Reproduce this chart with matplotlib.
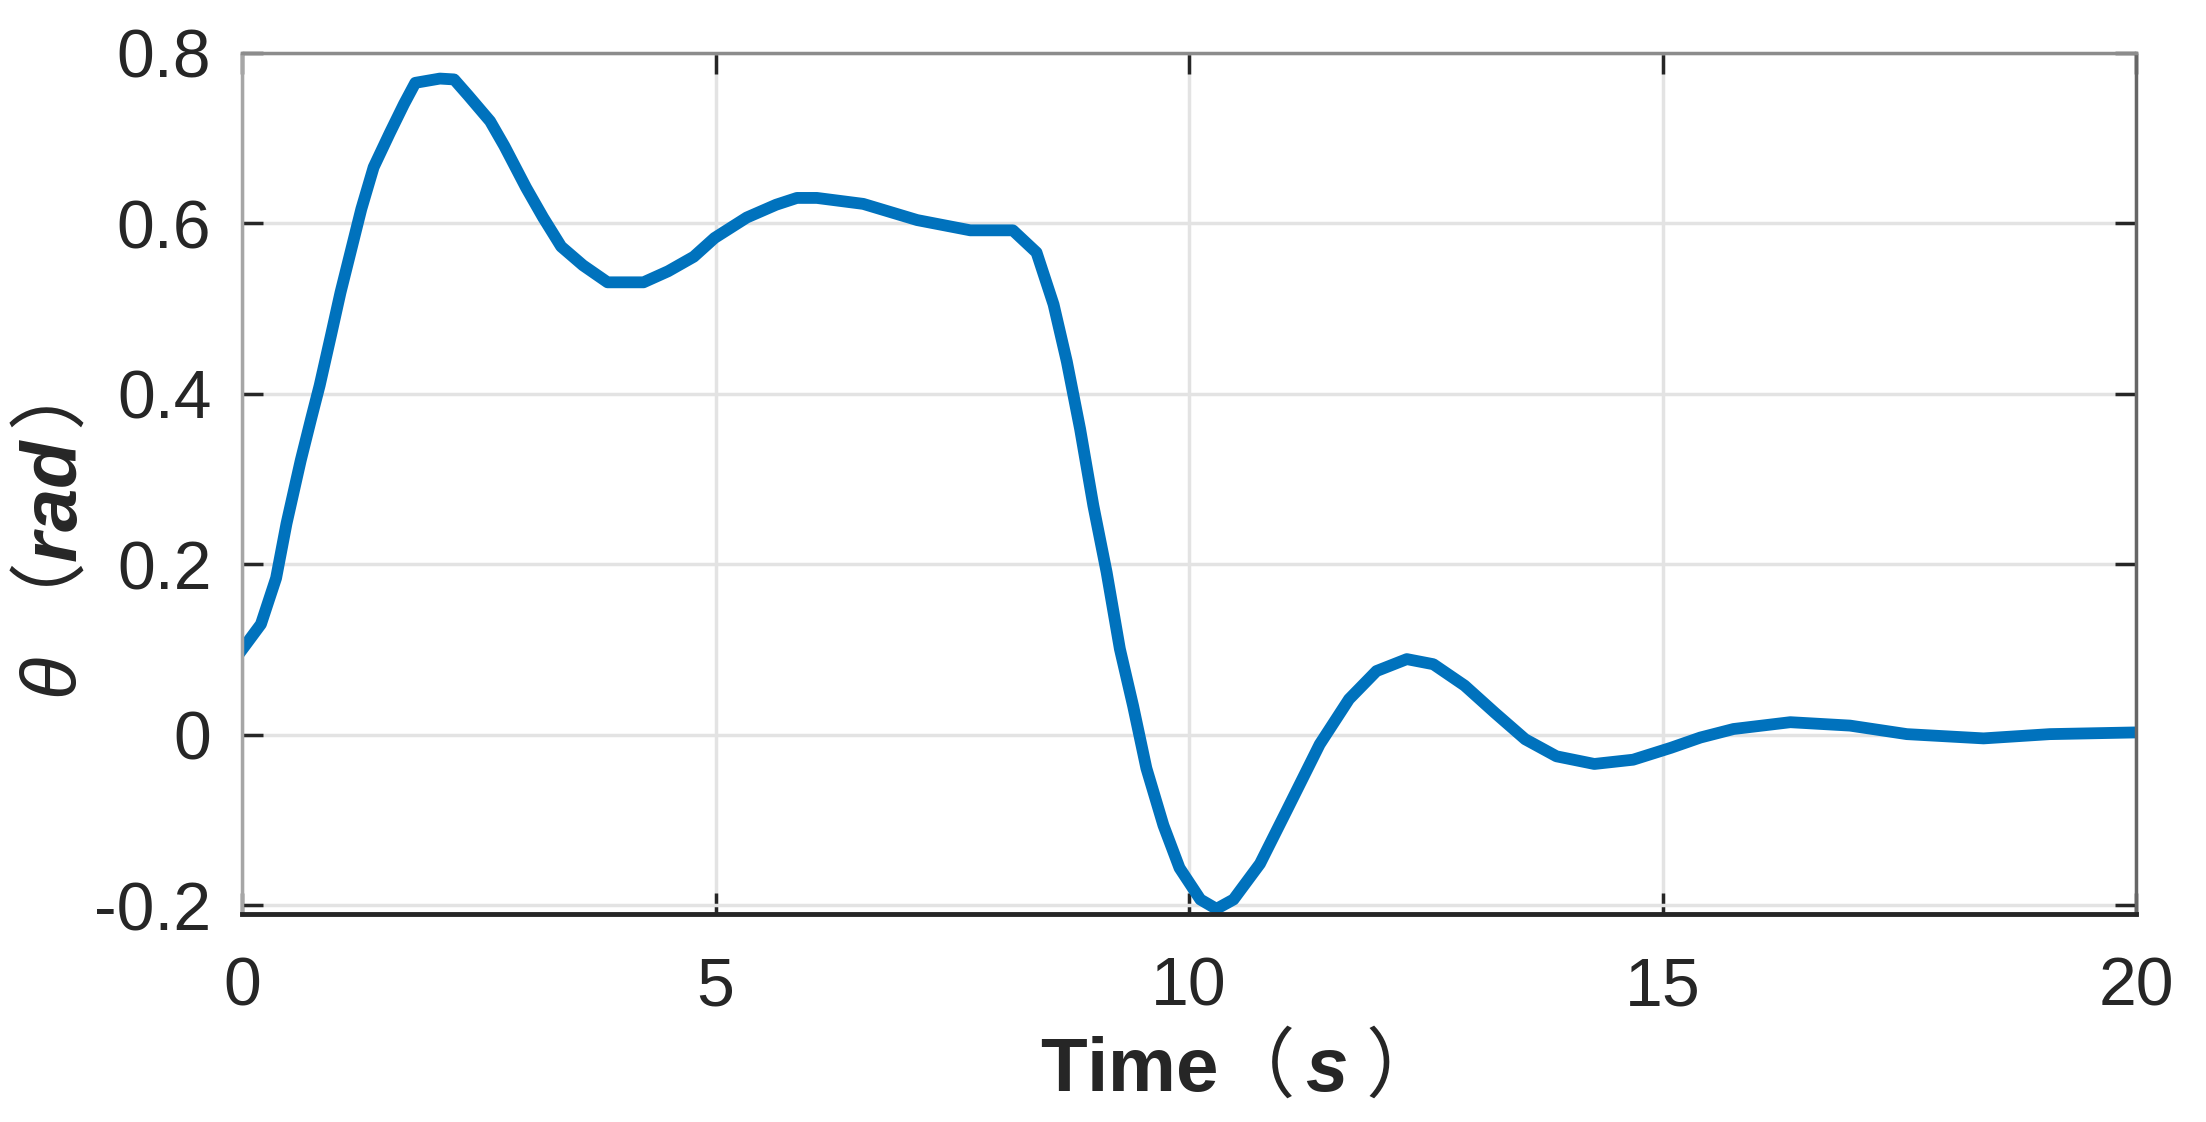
import matplotlib
matplotlib.use("Agg")
import matplotlib.pyplot as plt

plt.rcParams['font.family'] = ['Liberation Sans', 'Noto Sans CJK SC']
plt.rcParams['mathtext.fontset'] = 'custom'
plt.rcParams['mathtext.rm'] = 'Noto Sans CJK SC'
plt.rcParams['mathtext.it'] = 'Liberation Sans:italic'
plt.rcParams['mathtext.bf'] = 'Liberation Sans:bold'
plt.rcParams['mathtext.bfit'] = 'Liberation Sans:italic:bold'

# response
time_s = [0, 0.2, 0.36, 0.47, 0.62, 0.73, 0.82, 0.94, 1.04, 1.15, 1.26, 1.39,
          1.56, 1.71, 1.83, 2.09, 2.24, 2.39, 2.62, 2.77, 3.0, 3.18, 3.37, 3.6,
          3.86, 4.04, 4.24, 4.5, 4.77, 4.99, 5.33, 5.64, 5.86, 6.07, 6.56, 7.13,
          7.69, 8.14, 8.39, 8.57, 8.71, 8.85, 8.99, 9.13, 9.27, 9.41, 9.55, 9.73,
          9.90, 10.12, 10.29, 10.47, 10.75, 11.03, 11.38, 11.69, 11.98, 12.30,
          12.58, 12.91, 13.23, 13.55, 13.88, 14.28, 14.69, 15.09, 15.40, 15.75,
          16.35, 16.98, 17.58, 18.39, 19.09, 20]
theta = [0.10, 0.13, 0.184, 0.248, 0.322, 0.371, 0.41, 0.469, 0.519, 0.568,
         0.617, 0.666, 0.706, 0.74, 0.765, 0.77, 0.769, 0.75, 0.72, 0.691,
         0.642, 0.607, 0.573, 0.551, 0.531, 0.531, 0.531, 0.544, 0.561, 0.583,
         0.607, 0.622, 0.63, 0.630, 0.623, 0.604, 0.592, 0.592, 0.566, 0.505,
         0.438, 0.359, 0.269, 0.191, 0.101, 0.034, -0.039, -0.106, -0.156,
         -0.193, -0.204, -0.193, -0.151, -0.089, -0.011, 0.042, 0.075, 0.089,
         0.083, 0.058, 0.026, -0.005, -0.025, -0.034, -0.029, -0.015, -0.003,
         0.007, 0.015, 0.011, 0.001, -0.004, 0.001, 0.003]

xticks = [0, 5, 10, 15, 20]
yticks = [-0.2, 0, 0.2, 0.4, 0.6, 0.8]
ytick_labels = ['-0.2', '0', '0.2', '0.4', '0.6', '0.8']

fig = plt.figure(figsize=(22.06, 11.22), dpi=100)
ax = fig.add_axes([242/2206, 1 - 914/1122, 1894/2206, 861/1122])

ax.plot(time_s, theta, color='#0072BD', lw=8.5, solid_joinstyle='round')

ax.set_xlim(0, 20)
ax.set_ylim(-0.21, 0.8)
ax.set_xticks(xticks)
ax.set_xticklabels([str(v) for v in xticks])
ax.set_yticks(yticks)
ax.set_yticklabels(ytick_labels)

ax.grid(True, color='#e3e3e3', lw=2.5)
ax.set_axisbelow(True)
ax.tick_params(direction='in', length=15, width=2.5, color='#262626',
               labelsize=49, labelcolor='#262626', top=True, right=True)
ax.tick_params(axis='x', pad=30)
ax.tick_params(axis='y', pad=22)

ax.spines['left'].set_color('#a6a6a6')
ax.spines['top'].set_color('#8c8c8c')
ax.spines['right'].set_color('#666666')
ax.spines['bottom'].set_color('#262626')
for s in ['left', 'top', 'right']:
    ax.spines[s].set_linewidth(2.5)
ax.spines['bottom'].set_linewidth(3.5)

ax.set_xlabel(r"$\mathbf{Time}\mathrm{（}\,\mathbfit{s}\;\mathrm{）}$",
              fontsize=55, color='#262626')
ax.xaxis.set_label_coords(0.514, -0.135)
ax.set_ylabel(r"$\mathit{\theta}\;\mathrm{（}\mathbfit{rad}\,\mathrm{）}$",
              fontsize=56, color='#262626')
ax.yaxis.set_label_coords(-0.079, 0.42)

fig.savefig('out.png', dpi=100, facecolor='white')
